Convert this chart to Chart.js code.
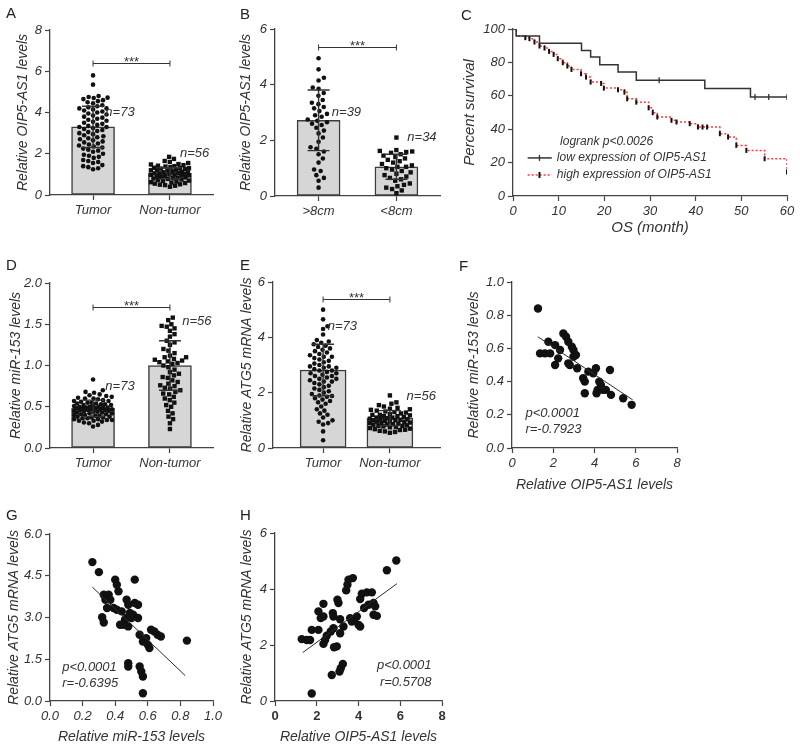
<!DOCTYPE html>
<html>
<head>
<meta charset="utf-8">
<title>OIP5-AS1 / miR-153 / ATG5</title>
<script src="https://cdn.jsdelivr.net/npm/chart.js@4.4.1/dist/chart.umd.min.js"></script>
<style>
  html, body { margin: 0; padding: 0; background: #fff; }
  #figure { position: relative; width: 800px; height: 749px; overflow: hidden; background: #fff; }
  #figure canvas { position: absolute; }
  .letter { position: absolute; font: 15px "Liberation Sans", Arial, sans-serif; line-height: 1; color: #222; }
</style>
</head>
<body>
<div id="figure">
  <canvas id="chartA"></canvas>
  <canvas id="chartB"></canvas>
  <canvas id="chartC"></canvas>
  <canvas id="chartD"></canvas>
  <canvas id="chartE"></canvas>
  <canvas id="chartF"></canvas>
  <canvas id="chartG"></canvas>
  <canvas id="chartH"></canvas>
  <div class="letter" style="left:6px;top:5px">A</div>
  <div class="letter" style="left:240px;top:6px">B</div>
  <div class="letter" style="left:461px;top:7px">C</div>
  <div class="letter" style="left:6px;top:257px">D</div>
  <div class="letter" style="left:240px;top:257px">E</div>
  <div class="letter" style="left:459px;top:258px">F</div>
  <div class="letter" style="left:6px;top:507px">G</div>
  <div class="letter" style="left:240px;top:507px">H</div>
</div>
<script>
// ---- data ----
const tumorGroups = ['Tumor', 'Non-tumor'];
const sizeGroups = ['>8cm', '<8cm'];

// A: OIP5-AS1 tumor vs non-tumor
const aMeans = [3.3, 1.05];
const aSd = [1.0, 0.27];
const aTumor = [5.8, 5.35, 4.8, 4.75, 4.72, 4.7, 4.65, 4.6, 4.55, 4.5, 4.45, 4.35, 4.3, 4.25, 4.2, 4.2, 4.15, 4.1, 4.05, 4.0,
  3.95, 3.9, 3.85, 3.8, 3.75, 3.7, 3.65, 3.6, 3.55, 3.5, 3.45, 3.4, 3.35, 3.3, 3.3, 3.25, 3.2, 3.15, 3.1, 3.05,
  3.0, 2.95, 2.9, 2.85, 2.8, 2.75, 2.7, 2.65, 2.6, 2.55, 2.5, 2.45, 2.4, 2.35, 2.3, 2.25, 2.2, 2.15, 2.1, 2.0,
  1.95, 1.9, 1.85, 1.8, 1.7, 1.65, 1.6, 1.55, 1.45, 1.4, 1.35, 1.3, 1.25];
const aNonTumor = [1.85, 1.75, 1.65, 1.6, 1.55, 1.5, 1.48, 1.45, 1.42, 1.4, 1.38, 1.35, 1.32, 1.3, 1.3, 1.28, 1.25, 1.22, 1.2, 1.2,
  1.18, 1.15, 1.12, 1.1, 1.1, 1.08, 1.05, 1.05, 1.02, 1.0, 1.0, 0.98, 0.95, 0.95, 0.92, 0.9, 0.88, 0.85, 0.85, 0.82,
  0.8, 0.78, 0.75, 0.72, 0.7, 0.68, 0.65, 0.62, 0.6, 0.58, 0.55, 0.52, 0.5, 0.48, 0.45, 0.4];
const aYTicks = [0, 2, 4, 6, 8];

// B: OIP5-AS1 by tumor size
const bMeans = [2.72, 1.05];
const bSd = [1.09, 0.45];
const bLarge = [4.95, 4.55, 4.25, 4.15, 3.9, 3.85, 3.7, 3.6, 3.45, 3.35, 3.3, 3.2, 3.15, 3.05, 2.95, 2.9, 2.85, 2.75, 2.7, 2.65,
  2.6, 2.55, 2.45, 2.35, 2.25, 2.1, 1.95, 1.75, 1.7, 1.6, 1.5, 1.35, 1.2, 0.95, 0.9, 0.75, 0.65, 0.55, 0.3];
const bSmall = [2.1, 1.65, 1.62, 1.6, 1.58, 1.55, 1.5, 1.45, 1.4, 1.35, 1.3, 1.25, 1.2, 1.15, 1.1, 1.05, 1.05, 1.0, 0.95, 0.9,
  0.85, 0.8, 0.75, 0.7, 0.65, 0.6, 0.55, 0.45, 0.4, 0.35, 0.3, 0.25, 0.2, 0.1];
const bYTicks = [0, 2, 4, 6];

// C: Kaplan-Meier
const lowMonths = [0, 0.7, 5.8, 15, 17, 19, 23, 27, 32, 42, 52, 53, 56, 60];
const lowSurvival = [100, 95.8, 91.4, 87.2, 83.2, 78.6, 74.2, 69.3, 69.3, 64.3, 59.3, 59.3, 59.3, 59.3];
const lowCensored = [0, 0, 0, 0, 0, 0, 0, 0, 1, 0, 0, 1, 1, 1];
const highMonths = [0, 0.7, 2.7, 3.6, 4.7, 5.8, 6.9, 7.9, 8.9, 9.8, 10.9, 11.9, 12.8, 14.9, 16, 17, 19.3, 19.9, 23, 24.4,
  25, 27, 29.7, 30.6, 31.6, 34.7, 35.8, 38.7, 40.5, 41.5, 42.5, 45.3, 47.1, 48.9, 51.1, 55.1, 60, 60];
const highSurvival = [100, 95.8, 94.8, 94.2, 92.2, 89.8, 88.6, 86.6, 84.8, 82.2, 79.8, 77.8, 75.8, 73.2, 71.2, 68.2, 67.4, 64.6, 63.6, 62.2,
  58.2, 56.2, 52.8, 49.9, 47.3, 45.3, 44.3, 43.3, 41.3, 41.3, 41.3, 37.3, 35.3, 30.3, 27.3, 22.3, 22.3, 14.3];
const highCensored = [0, 0, 1, 1, 1, 1, 1, 1, 1, 1, 1, 1, 1, 1, 1, 1, 1, 1, 1, 1,
  1, 1, 1, 1, 1, 1, 1, 1, 1, 1, 1, 1, 1, 1, 1, 1, 0, 1];
const cXTicks = [0, 10, 20, 30, 40, 50, 60];
const cYTicks = [0, 20, 40, 60, 80, 100];

// D: miR-153
const dMeans = [0.48, 1.0];
const dSd = [0.1, 0.3];
const dTumor = [0.83, 0.7, 0.68, 0.67, 0.65, 0.64, 0.63, 0.62, 0.61, 0.6, 0.6, 0.59, 0.58, 0.57, 0.57, 0.56, 0.55, 0.55, 0.54, 0.54,
  0.53, 0.53, 0.52, 0.52, 0.51, 0.51, 0.5, 0.5, 0.5, 0.49, 0.49, 0.49, 0.48, 0.48, 0.48, 0.47, 0.47, 0.47, 0.46, 0.46,
  0.46, 0.45, 0.45, 0.45, 0.44, 0.44, 0.43, 0.43, 0.42, 0.42, 0.41, 0.41, 0.4, 0.4, 0.39, 0.39, 0.38, 0.38, 0.37, 0.37,
  0.36, 0.36, 0.35, 0.35, 0.34, 0.34, 0.33, 0.33, 0.32, 0.31, 0.3, 0.28, 0.26];
const dNonTumor = [1.58, 1.55, 1.5, 1.48, 1.47, 1.45, 1.42, 1.38, 1.35, 1.3, 1.28, 1.25, 1.2, 1.18, 1.15, 1.12, 1.1, 1.1, 1.08, 1.07,
  1.06, 1.05, 1.04, 1.03, 1.02, 1.0, 0.98, 0.95, 0.92, 0.9, 0.88, 0.86, 0.85, 0.82, 0.8, 0.78, 0.76, 0.75, 0.73, 0.72,
  0.7, 0.68, 0.66, 0.65, 0.62, 0.6, 0.58, 0.55, 0.52, 0.5, 0.45, 0.42, 0.38, 0.35, 0.3, 0.23];
const dYTicks = [0, 0.5, 1.0, 1.5, 2.0];

// E: ATG5 mRNA
const eMeans = [2.82, 1.08];
const eSd = [0.93, 0.27];
const eTumor = [5.0, 4.65, 4.4, 4.3, 4.1, 3.9, 3.85, 3.8, 3.75, 3.7, 3.65, 3.6, 3.55, 3.5, 3.45, 3.4, 3.35, 3.3, 3.3, 3.25,
  3.2, 3.15, 3.1, 3.05, 3.0, 2.95, 2.95, 2.9, 2.9, 2.85, 2.8, 2.8, 2.75, 2.7, 2.7, 2.65, 2.6, 2.6, 2.55, 2.5,
  2.5, 2.45, 2.4, 2.4, 2.35, 2.3, 2.25, 2.2, 2.15, 2.1, 2.05, 2.0, 1.95, 1.9, 1.88, 1.85, 1.8, 1.75, 1.7, 1.65,
  1.6, 1.5, 1.4, 1.35, 1.25, 1.2, 1.1, 1.0, 0.95, 0.9, 0.85, 0.6, 0.28];
const eNonTumor = [1.9, 1.65, 1.6, 1.55, 1.5, 1.45, 1.42, 1.4, 1.38, 1.35, 1.32, 1.3, 1.28, 1.25, 1.22, 1.2, 1.2, 1.18, 1.15, 1.15,
  1.12, 1.1, 1.1, 1.08, 1.06, 1.05, 1.04, 1.02, 1.0, 1.0, 0.98, 0.96, 0.95, 0.94, 0.92, 0.9, 0.9, 0.88, 0.86, 0.85,
  0.84, 0.82, 0.8, 0.8, 0.78, 0.76, 0.75, 0.72, 0.7, 0.68, 0.66, 0.65, 0.62, 0.6, 0.58, 0.55];
const eYTicks = [0, 2, 4, 6];

// F: miR-153 vs OIP5-AS1
const fX = [1.26, 1.76, 2.09, 1.36, 1.6, 1.85, 2.49, 2.62, 2.73, 2.9, 2.98, 2.33, 2.24, 2.09, 2.73, 2.98, 3.1, 2.8, 3.16, 3.45,
  3.53, 3.7, 3.94, 4.07, 4.75, 4.23, 4.31, 4.15, 3.53, 4.55, 4.8, 5.39, 5.8, 4.4, 4.1];
const fY = [0.84, 0.64, 0.62, 0.57, 0.57, 0.57, 0.69, 0.67, 0.64, 0.61, 0.59, 0.59, 0.54, 0.5, 0.51, 0.55, 0.56, 0.5, 0.48, 0.42,
  0.4, 0.46, 0.45, 0.48, 0.47, 0.4, 0.38, 0.35, 0.33, 0.35, 0.32, 0.3, 0.26, 0.35, 0.33];
const fFitX = [1.25, 5.85];
const fFitY = [0.67, 0.29];
const fXTicks = [0, 2, 4, 6, 8];
const fYTicks = [0, 0.2, 0.4, 0.6, 0.8, 1.0];

// G: ATG5 vs miR-153
const gX = [0.26, 0.3, 0.4, 0.41, 0.42, 0.52, 0.33, 0.36, 0.34, 0.37, 0.35, 0.39, 0.41, 0.44, 0.32, 0.33, 0.47, 0.48, 0.52, 0.54,
  0.49, 0.51, 0.47, 0.5, 0.54, 0.45, 0.48, 0.46, 0.55, 0.57, 0.6, 0.61, 0.62, 0.64, 0.66, 0.68, 0.84, 0.48, 0.48, 0.55,
  0.56, 0.57, 0.57, 0.43, 0.59];
const gY = [4.99, 4.63, 4.36, 4.18, 3.94, 4.36, 3.82, 3.82, 3.64, 3.64, 3.34, 3.34, 3.28, 3.22, 3.01, 2.82, 3.64, 3.46, 3.52, 3.46,
  3.16, 3.1, 2.98, 2.98, 2.98, 2.74, 2.68, 2.92, 2.38, 2.14, 2.02, 1.9, 2.56, 2.5, 2.38, 2.32, 2.17, 1.36, 1.24, 1.24,
  1.06, 0.88, 0.28, 2.74, 2.26];
const gFitX = [0.26, 0.83];
const gFitY = [4.09, 0.91];
const gXTicks = [0, 0.2, 0.4, 0.6, 0.8, 1.0];
const gYTicks = [0, 1.5, 3.0, 4.5, 6.0];

// H: ATG5 vs OIP5-AS1
const hX = [5.81, 5.36, 3.73, 3.52, 3.47, 3.41, 4.16, 4.4, 4.64, 4.08, 4.27, 4.48, 4.72, 4.8, 4.72, 4.88, 2.32, 2.99, 3.04, 2.08,
  2.19, 2.32, 2.77, 2.8, 3.12, 3.6, 3.79, 3.92, 4.0, 4.08, 3.68, 3.28, 2.8, 2.67, 1.76, 2.08, 3.12, 2.48, 2.4, 2.32,
  1.28, 1.52, 1.68, 2.96, 2.83, 3.25, 3.15, 3.09, 2.72, 1.76];
const hY = [5.02, 4.67, 4.39, 4.33, 4.15, 3.95, 3.83, 3.88, 3.88, 3.64, 3.32, 3.44, 3.5, 3.38, 3.08, 3.04, 3.47, 3.62, 3.5, 3.2,
  2.96, 3.02, 3.14, 3.02, 2.92, 2.96, 2.9, 3.02, 2.72, 2.66, 2.84, 2.66, 2.6, 2.48, 2.54, 2.54, 2.42, 2.33, 2.18, 2.04,
  2.21, 2.18, 2.18, 1.95, 1.92, 1.32, 1.17, 1.05, 0.93, 0.27];
const hFitX = [1.33, 5.84];
const hFitY = [1.73, 4.19];
const hXTicks = [0, 2, 4, 6, 8];
const hYTicks = [0, 2, 4, 6];

// ---- layout / style ----
const FONT = '"Liberation Sans", Arial, sans-serif';
const INK = '#333333';
const AXIS = '#444444';
const DOT = '#111111';
const BAR_FILL = '#d6d6d6';
const BAR_EDGE = '#3c3c3c';
const RED = '#ff3838';
const Y_W = 55, X_H = 50, PAD_T = 20, PAD_R = 30;

Chart.defaults.font.family = FONT;
Chart.defaults.color = INK;
Chart.defaults.animation = false;
Chart.defaults.plugins.legend.display = false;
Chart.defaults.plugins.tooltip.enabled = false;

const pairs = (xs, ys) => xs.map((x, i) => ({x: x, y: ys[i]}));
const oneDecimal = v => v.toFixed(1);

function place(id, area) {
    const c = document.getElementById(id);
    c.width = (area.r - area.l) + Y_W + PAD_R;
    c.height = (area.b - area.t) + PAD_T + X_H;
    c.style.left = (area.l - Y_W) + 'px';
    c.style.top = (area.t - PAD_T) + 'px';
    return c;
}

function axisY(area, o) {
    const size = o.titleSize || 14;
    return {
        type: 'linear',
        min: o.ticks[0],
        max: o.ticks[o.ticks.length - 1],
        afterFit: s => { s.width = Y_W; },
        afterBuildTicks: s => { s.ticks = o.ticks.map(v => ({value: v})); },
        ticks: {font: {size: 13, style: 'italic'}, color: INK, padding: 3, autoSkip: false, callback: o.fmt || (v => v)},
        grid: {drawOnChartArea: false, tickLength: 5, color: AXIS, tickWidth: 1.2},
        border: {color: AXIS, width: 1.3},
        title: {display: true, text: o.title, color: INK, font: {size: size, style: 'italic'},
            padding: {top: o.titleX - (area.l - Y_W) - size * 0.6, bottom: 0}}
    };
}

function axisX(area, o) {
    const size = o.titleSize || 14;
    const scale = {
        type: 'linear',
        min: o.min,
        max: o.max,
        offset: false,
        afterFit: s => { s.height = X_H; },
        afterBuildTicks: s => { s.ticks = o.ticks.map(v => ({value: v})); },
        ticks: {font: o.tickFont || {size: 13, style: 'italic'}, color: INK, padding: 3, autoSkip: false, maxRotation: 0,
            callback: o.fmt || (v => v)},
        grid: {offset: false, drawOnChartArea: false, tickLength: 5, color: AXIS, tickWidth: 1.2},
        border: {color: AXIS, width: 1.3}
    };
    if (o.title) {
        scale.title = {display: true, text: o.title, color: INK, font: {size: size, style: 'italic'},
            padding: {top: 0, bottom: area.b + X_H - o.titleY - size * 0.6}};
    }
    return scale;
}

// horizontal spread of dots inside the bar, like a dot plot
function swarm(values, pxPerUnit, gap, half) {
    const placed = [];
    const offsets = new Array(values.length).fill(0);
    values.map((v, i) => i).sort((a, b) => values[a] - values[b]).forEach(i => {
        const py = values[i] * pxPerUnit;
        const near = placed.filter(p => Math.abs(p.y - py) < gap);
        const dist = c => Math.min(Infinity, ...near.map(p => (p.x - c) ** 2 + (p.y - py) ** 2));
        const options = [0];
        near.forEach(p => {
            const dx = Math.sqrt(gap * gap - (p.y - py) ** 2);
            options.push(p.x + dx, p.x - dx);
        });
        let spot = options.filter(c => Math.abs(c) <= half)
            .sort((a, b) => Math.abs(a) - Math.abs(b))
            .find(c => dist(c) >= gap * gap - 0.01);
        if (spot === undefined) {
            // band is full: take the least crowded place inside it
            let best = -1;
            for (let c = -half; c <= half; c += 0.5) {
                const d = dist(c);
                if (d > best) { best = d; spot = c; }
            }
        }
        offsets[i] = spot;
        placed.push({x: spot, y: py});
    });
    return offsets;
}

function notes(n) {
    return {
        id: 'notes',
        afterDatasetsDraw(chart) {
            const ctx = chart.ctx;
            const x = chart.scales.x, y = chart.scales.y;
            ctx.save();
            ctx.strokeStyle = INK;
            ctx.fillStyle = INK;
            (n.errors || []).forEach(e => {
                const px = x.getPixelForValue(e.x);
                const top = y.getPixelForValue(e.mean + e.sd);
                const bottom = y.getPixelForValue(e.mean - e.sd);
                ctx.lineWidth = 1.4;
                ctx.beginPath();
                ctx.moveTo(px, top); ctx.lineTo(px, bottom);
                ctx.moveTo(px - e.cap / 2, top); ctx.lineTo(px + e.cap / 2, top);
                ctx.moveTo(px - e.cap / 2, bottom); ctx.lineTo(px + e.cap / 2, bottom);
                ctx.stroke();
            });
            if (n.bracket !== undefined) {
                const x0 = x.getPixelForValue(0), x1 = x.getPixelForValue(1);
                const py = Math.round(y.getPixelForValue(n.bracket)) + 0.5;
                ctx.lineWidth = 1;
                ctx.beginPath();
                ctx.moveTo(x0, py); ctx.lineTo(x1, py);
                ctx.moveTo(x0, py - 3); ctx.lineTo(x0, py + 3);
                ctx.moveTo(x1, py - 3); ctx.lineTo(x1, py + 3);
                ctx.stroke();
                ctx.font = '13px ' + FONT;
                ctx.textAlign = 'center';
                ctx.textBaseline = 'alphabetic';
                ctx.fillText('***', (x0 + x1) / 2, py + 2);
            }
            (n.lines || []).forEach(l => {
                const py = y.getPixelForValue(l.y);
                const x0 = x.getPixelForValue(l.x0), x1 = x.getPixelForValue(l.x1), xm = x.getPixelForValue(l.tick);
                ctx.strokeStyle = l.color;
                ctx.lineWidth = 1.5;
                ctx.setLineDash(l.dash || []);
                ctx.beginPath(); ctx.moveTo(x0, py); ctx.lineTo(x1, py); ctx.stroke();
                ctx.setLineDash([]);
                ctx.strokeStyle = l.tickColor;
                ctx.lineWidth = l.tickWidth;
                ctx.beginPath(); ctx.moveTo(xm, py - 3); ctx.lineTo(xm, py + 3); ctx.stroke();
            });
            (n.texts || []).forEach(t => {
                ctx.fillStyle = INK;
                ctx.font = 'italic ' + (t.size || 13) + 'px ' + FONT;
                ctx.textAlign = t.align || 'left';
                ctx.textBaseline = 'middle';
                ctx.fillText(t.text, x.getPixelForValue(t.x), y.getPixelForValue(t.y));
            });
            ctx.restore();
        }
    };
}

function barPanel(id, area, p) {
    const canvas = place(id, area);
    const xUnit = (area.r - area.l) / (p.xMax - p.xMin);
    const yUnit = (area.b - area.t) / (p.yTicks[p.yTicks.length - 1] - p.yTicks[0]);
    const groups = p.values.map((vals, g) => {
        const off = swarm(vals, yUnit, p.gap, p.spread);
        return vals.map((v, i) => ({x: g + off[i] / xUnit, y: v}));
    });
    new Chart(canvas, {
        type: 'scatter',
        data: {
            datasets: [
                {data: groups[0], pointStyle: 'circle', pointRadius: 2.3, backgroundColor: DOT, borderWidth: 0, order: 1},
                {data: groups[1], pointStyle: 'rect', pointRadius: 3.1, backgroundColor: DOT, borderWidth: 0, order: 1},
                {type: 'bar', data: p.means.map((m, g) => ({x: g, y: m})), barThickness: p.barWidth,
                    backgroundColor: BAR_FILL, borderColor: BAR_EDGE, borderWidth: 1.5, borderSkipped: false, order: 2}
            ]
        },
        options: {
            responsive: false,
            layout: {padding: {top: PAD_T, right: PAD_R, left: 0, bottom: 0}},
            scales: {
                x: axisX(area, {min: p.xMin, max: p.xMax, ticks: [0, 1], fmt: v => p.labels[v]}),
                y: axisY(area, {ticks: p.yTicks, fmt: p.yFmt, title: p.yTitle, titleX: p.yTitleX})
            }
        },
        plugins: [notes({
            errors: p.means.map((m, g) => ({x: g, mean: m, sd: p.sds[g], cap: p.cap})),
            bracket: p.bracket,
            texts: p.texts
        })]
    });
}

function scatterPanel(id, area, p) {
    const canvas = place(id, area);
    new Chart(canvas, {
        type: 'scatter',
        data: {
            datasets: [
                {type: 'line', data: pairs(p.fitX, p.fitY), borderColor: '#2a2a2a', borderWidth: 1, pointRadius: 0, order: 0},
                {data: pairs(p.xs, p.ys), pointRadius: 4.2, backgroundColor: DOT, borderWidth: 0, order: 1}
            ]
        },
        options: {
            responsive: false,
            layout: {padding: {top: PAD_T, right: PAD_R, left: 0, bottom: 0}},
            scales: {
                x: axisX(area, {min: p.xTicks[0], max: p.xTicks[p.xTicks.length - 1], ticks: p.xTicks, fmt: p.xFmt,
                    tickFont: p.xTickFont, title: p.xTitle, titleY: p.xTitleY}),
                y: axisY(area, {ticks: p.yTicks, fmt: p.yFmt, title: p.yTitle, titleX: p.yTitleX})
            }
        },
        plugins: [notes({texts: p.texts})]
    });
}

// ---- panels ----
barPanel('chartA', {l: 50, t: 30, r: 213, b: 195}, {
    labels: tumorGroups, means: aMeans, sds: aSd, values: [aTumor, aNonTumor], yTicks: aYTicks,
    xMin: -0.56, xMax: 1.56, barWidth: 43, cap: 22, gap: 5.2, spread: 19, bracket: 6.4,
    yTitle: 'Relative OIP5-AS1 levels', yTitleX: 23,
    texts: [{x: 0.16, y: 4.0, text: 'n=73'}, {x: 1.13, y: 2.0, text: 'n=56'}]
});

barPanel('chartB', {l: 275, t: 29, r: 440, b: 196}, {
    labels: sizeGroups, means: bMeans, sds: bSd, values: [bLarge, bSmall], yTicks: bYTicks,
    xMin: -0.56, xMax: 1.56, barWidth: 43, cap: 22, gap: 6, spread: 19, bracket: 5.36,
    yTitle: 'Relative OIP5-AS1 levels', yTitleX: 246,
    texts: [{x: 0.17, y: 3.02, text: 'n=39'}, {x: 1.14, y: 2.12, text: 'n=34'}]
});

(function kaplanMeier() {
    const area = {l: 513, t: 29, r: 787, b: 196};
    const canvas = place('chartC', area);
    new Chart(canvas, {
        type: 'scatter',
        data: {
            datasets: [
                {type: 'line', data: pairs(highMonths, highSurvival), stepped: 'before', borderColor: RED, borderWidth: 1.5,
                    borderDash: [2, 2], pointStyle: 'line', pointRotation: 90, pointRadius: highCensored.map(c => c ? 2.5 : 0),
                    pointBorderColor: '#111', pointBorderWidth: 2, fill: false, order: 2},
                {type: 'line', data: pairs(lowMonths, lowSurvival), stepped: 'before', borderColor: '#333', borderWidth: 1.5,
                    pointStyle: 'line', pointRotation: 90, pointRadius: lowCensored.map(c => c ? 3 : 0),
                    pointBorderColor: '#333', pointBorderWidth: 1.3, fill: false, order: 1}
            ]
        },
        options: {
            responsive: false,
            layout: {padding: {top: PAD_T, right: PAD_R, left: 0, bottom: 0}},
            scales: {
                x: axisX(area, {min: 0, max: 60, ticks: cXTicks, title: 'OS (month)', titleY: 228, titleSize: 15}),
                y: axisY(area, {ticks: cYTicks, title: 'Percent survival', titleX: 470, titleSize: 15})
            }
        },
        plugins: [notes({
            lines: [
                {x0: 3.2, x1: 8.5, tick: 5.8, y: 22.8, color: '#333', tickColor: '#333', tickWidth: 1.3},
                {x0: 3.2, x1: 8.5, tick: 5.8, y: 12.6, color: RED, dash: [2, 2], tickColor: '#111', tickWidth: 2}
            ],
            texts: [
                {x: 10.3, y: 32.3, text: 'logrank p<0.0026', size: 12},
                {x: 9.6, y: 22.8, text: 'low expression of OIP5-AS1', size: 12},
                {x: 9.6, y: 12.6, text: 'high expression of OIP5-AS1', size: 12}
            ]
        })]
    });
})();

barPanel('chartD', {l: 50, t: 283, r: 213, b: 448}, {
    labels: tumorGroups, means: dMeans, sds: dSd, values: [dTumor, dNonTumor], yTicks: dYTicks, yFmt: oneDecimal,
    xMin: -0.56, xMax: 1.56, barWidth: 43, cap: 22, gap: 5.2, spread: 19, bracket: 1.71,
    yTitle: 'Relative miR-153 levels', yTitleX: 16,
    texts: [{x: 0.16, y: 0.75, text: 'n=73'}, {x: 1.16, y: 1.53, text: 'n=56'}]
});

barPanel('chartE', {l: 273, t: 282, r: 440, b: 448}, {
    labels: tumorGroups, means: eMeans, sds: eSd, values: [eTumor, eNonTumor], yTicks: eYTicks,
    xMin: -0.75, xMax: 1.75, barWidth: 46, cap: 22, gap: 5.2, spread: 20, bracket: 5.38,
    yTitle: 'Relative ATG5 mRNA levels', yTitleX: 247,
    texts: [{x: 0.07, y: 4.4, text: 'n=73'}, {x: 1.25, y: 1.88, text: 'n=56'}]
});

scatterPanel('chartF', {l: 512, t: 282, r: 677, b: 448}, {
    xs: fX, ys: fY, fitX: fFitX, fitY: fFitY, xTicks: fXTicks, yTicks: fYTicks, yFmt: oneDecimal,
    xTitle: 'Relative OIP5-AS1 levels', xTitleY: 485, yTitle: 'Relative miR-153 levels', yTitleX: 474,
    texts: [{x: 0.65, y: 0.21, text: 'p<0.0001'}, {x: 0.65, y: 0.11, text: 'r=-0.7923'}]
});

scatterPanel('chartG', {l: 50, t: 534, r: 213, b: 701}, {
    xs: gX, ys: gY, fitX: gFitX, fitY: gFitY, xTicks: gXTicks, yTicks: gYTicks, xFmt: oneDecimal, yFmt: oneDecimal,
    xTitle: 'Relative miR-153 levels', xTitleY: 737, yTitle: 'Relative ATG5 mRNA levels', yTitleX: 14,
    texts: [{x: 0.075, y: 1.22, text: 'p<0.0001'}, {x: 0.075, y: 0.65, text: 'r=-0.6395'}]
});

scatterPanel('chartH', {l: 275, t: 533, r: 442, b: 701}, {
    xs: hX, ys: hY, fitX: hFitX, fitY: hFitY, xTicks: hXTicks, yTicks: hYTicks,
    xTickFont: {size: 13, weight: 'bold'},
    xTitle: 'Relative OIP5-AS1 levels', xTitleY: 737, yTitle: 'Relative ATG5 mRNA levels', yTitleX: 247,
    texts: [{x: 7.5, y: 1.28, text: 'p<0.0001', align: 'right'}, {x: 7.5, y: 0.68, text: 'r=0.5708', align: 'right'}]
});
</script>
</body>
</html>
